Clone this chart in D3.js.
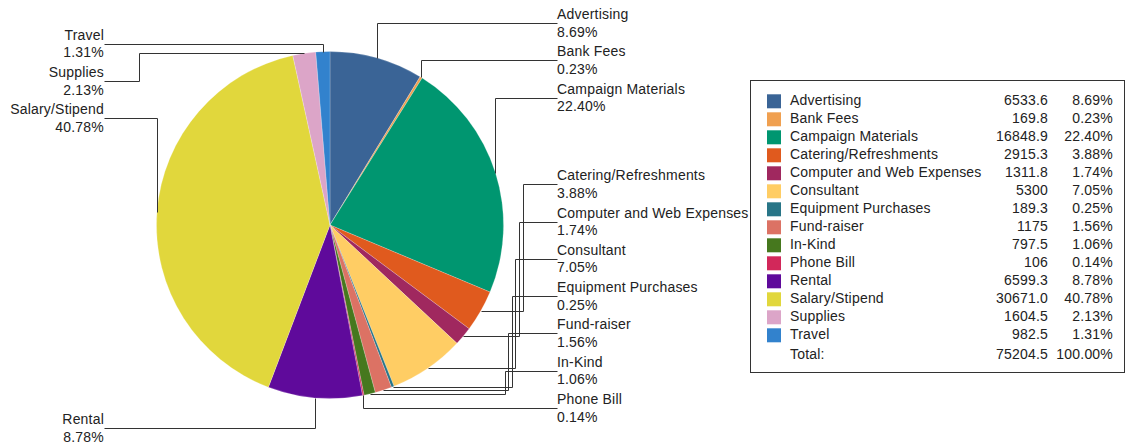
<!DOCTYPE html>
<html>
<head>
<meta charset="utf-8">
<style>
  body { margin: 0; background: #fff; }
  svg { display: block; font-family: "Liberation Sans", Arial, sans-serif; }
  .lbl { font-size: 14px; fill: #222; letter-spacing: 0.2px; }
</style>
</head>
<body>
<svg id="chart" width="1134" height="447"></svg>
<script src="https://cdn.jsdelivr.net/npm/d3@7/dist/d3.min.js"></script>
<script>
var categories = ["Advertising", "Bank Fees", "Campaign Materials", "Catering/Refreshments",
  "Computer and Web Expenses", "Consultant", "Equipment Purchases", "Fund-raiser", "In-Kind",
  "Phone Bill", "Rental", "Salary/Stipend", "Supplies", "Travel"];
var values = [6533.6, 169.8, 16848.9, 2915.3, 1311.8, 5300, 189.3, 1175, 797.5, 106, 6599.3, 30671.0, 1604.5, 982.5];
var valueText = ["6533.6", "169.8", "16848.9", "2915.3", "1311.8", "5300", "189.3", "1175", "797.5", "106", "6599.3", "30671.0", "1604.5", "982.5"];
var colors = ["#3a6496", "#f0a050", "#009670", "#e05a1e", "#a0285f", "#ffcd64", "#287587",
  "#dc7264", "#46781e", "#d2285a", "#5f0a9b", "#e1d73c", "#dca5c8", "#3282cd"];
var totalText = "75204.5";

var svg = d3.select("#chart");
var cx = 330, cy = 225, R = 173.5;
var total = d3.sum(values);
var pct = function(v){ return (v / total * 100).toFixed(2) + "%"; };

var data = categories.map(function(c, i){ return {name: c, value: values[i], text: valueText[i], color: colors[i]}; });

var arcs = d3.pie().sort(null).value(function(d){ return d.value; })(data);
var arc = d3.arc().innerRadius(0).outerRadius(R);

var g = svg.append("g").attr("transform", "translate(" + cx + "," + cy + ")");
g.selectAll("path").data(arcs).enter().append("path")
  .attr("d", arc)
  .attr("fill", function(d){ return d.data.color; })
  .attr("stroke", "rgba(255,255,255,0.5)")
  .attr("stroke-width", 0.4);

// label layout: stacked groups per side/half
var rightX = 557, leftX = 104, step = 37.3;
var layout = {
  rightTop: 23, rightBottom: 408, leftTop: 43.7, leftBottom: 428
};
arcs.forEach(function(d){
  var a = (d.startAngle + d.endAngle) / 2;
  d.px = cx + R * Math.sin(a);
  d.py = cy - R * Math.cos(a);
  d.side = a < Math.PI ? "right" : "left";
  d.upper = d.py < cy;
});
function stack(list, start, dir){
  list.forEach(function(d, i){ d.ly = start + dir * i * step; });
}
var rt = arcs.filter(function(d){ return d.side == "right" && d.upper; });
var rb = arcs.filter(function(d){ return d.side == "right" && !d.upper; }).reverse();
var lt = arcs.filter(function(d){ return d.side == "left" && d.upper; }).reverse();
var lb = arcs.filter(function(d){ return d.side == "left" && !d.upper; });
stack(rt, layout.rightTop, 1);
stack(rb, layout.rightBottom, -1);
stack(lt, layout.leftTop, 1);
stack(lb, layout.leftBottom, -1);

var kRight = 0, kLeft = 0;
arcs.forEach(function(d){
  var tx = d.side == "right" ? rightX : leftX;
  var s = d.side == "right" ? 1 : -1;
  var pts;
  if (Math.abs(d.ly - cy) >= Math.abs(d.py - cy)) {
    pts = [[d.px, d.py], [d.px, d.ly], [tx, d.ly]];
  } else {
    var k = d.side == "right" ? kRight++ : kLeft++;
    var ex = tx - s * (34.5 + k * 3.6);
    pts = [[d.px, d.py], [ex, d.py], [ex, d.ly], [tx, d.ly]];
  }
  d.pts = pts;
});

svg.append("g").selectAll("path").data(arcs).enter().append("path")
  .attr("d", function(d){ return d3.line()(d.pts.map(function(p){ return [Math.round(p[0]) + 0.5, Math.round(p[1]) + 0.5]; })); })
  .attr("fill", "none")
  .attr("stroke", "#333")
  .attr("stroke-width", 1);

var labels = svg.append("g").selectAll("g").data(arcs).enter().append("g");
labels.append("text").attr("class", "lbl")
  .attr("x", function(d){ return d.side == "right" ? rightX : leftX; })
  .attr("y", function(d){ return d.ly - 4; })
  .attr("text-anchor", function(d){ return d.side == "right" ? "start" : "end"; })
  .text(function(d){ return d.data.name; });
labels.append("text").attr("class", "lbl")
  .attr("x", function(d){ return d.side == "right" ? rightX : leftX; })
  .attr("y", function(d){ return d.ly + 13.5; })
  .attr("text-anchor", function(d){ return d.side == "right" ? "start" : "end"; })
  .text(function(d){ return pct(d.data.value); });

// legend
var lg = svg.append("g");
lg.append("rect").attr("x", 750.5).attr("y", 80.5).attr("width", 374).attr("height", 292)
  .attr("fill", "#fff").attr("stroke", "#333").attr("stroke-width", 1);
var rowY = d3.scaleLinear().domain([0, 1]).range([105.3, 123.3]);
var rows = lg.selectAll("g.row").data(data).enter().append("g").attr("class", "row");
rows.append("rect")
  .attr("x", 767).attr("y", function(d, i){ return rowY(i) - 11; })
  .attr("width", 14).attr("height", 14)
  .attr("fill", function(d){ return d.color; });
rows.append("text").attr("class", "lbl").attr("x", 790).attr("y", function(d, i){ return rowY(i); })
  .text(function(d){ return d.name; });
rows.append("text").attr("class", "lbl").attr("x", 1048).attr("y", function(d, i){ return rowY(i); })
  .attr("text-anchor", "end").text(function(d){ return d.text; });
rows.append("text").attr("class", "lbl").attr("x", 1113).attr("y", function(d, i){ return rowY(i); })
  .attr("text-anchor", "end").text(function(d){ return pct(d.value); });
var ty = rowY(data.length - 1) + 19.5;
lg.append("text").attr("class", "lbl").attr("x", 790).attr("y", ty).text("Total:");
lg.append("text").attr("class", "lbl").attr("x", 1048).attr("y", ty).attr("text-anchor", "end").text(totalText);
lg.append("text").attr("class", "lbl").attr("x", 1113).attr("y", ty).attr("text-anchor", "end").text("100.00%");
</script>
</body>
</html>
